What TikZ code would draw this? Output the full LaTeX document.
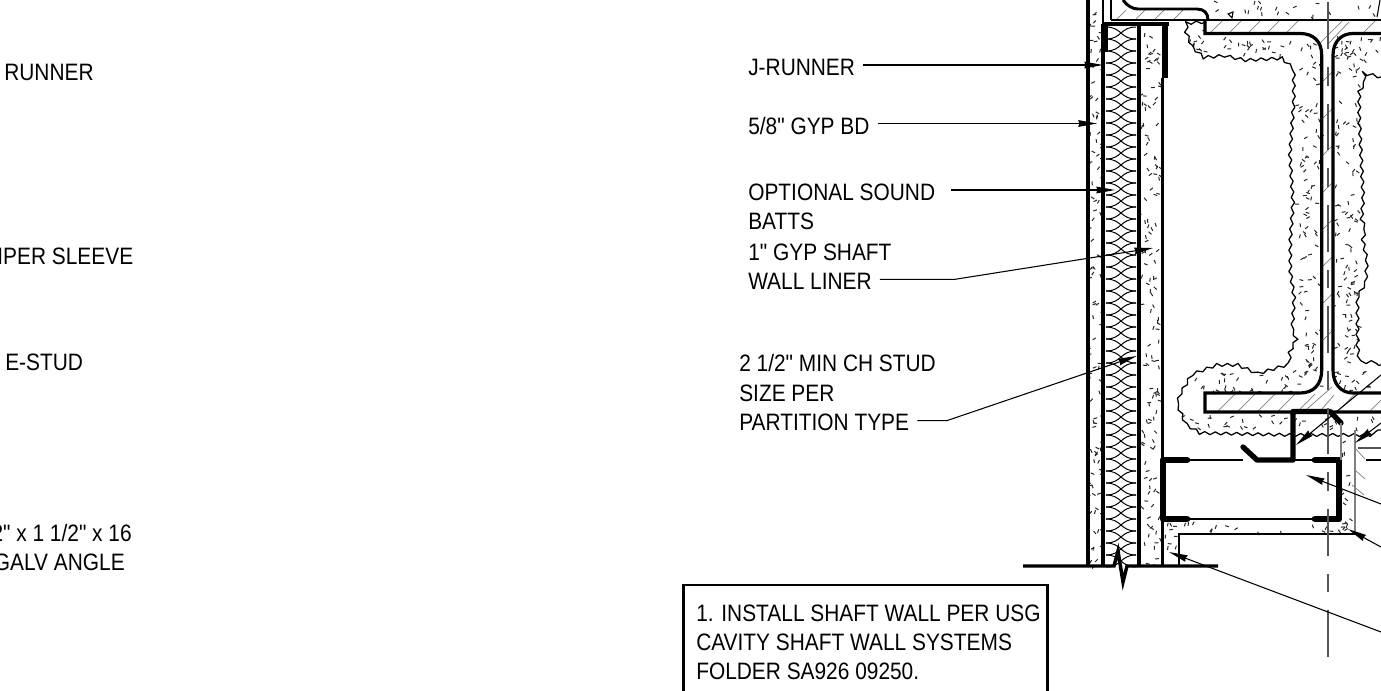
\documentclass[tikz,border=0pt]{standalone}
\usepackage{fontspec}
\newfontfamily\notefont[FakeStretch=0.88]{Liberation Sans}
\usepackage{tikz}
\usetikzlibrary{arrows.meta,decorations.pathmorphing}

\definecolor{hatchgray}{gray}{0.5}
\definecolor{axisgray}{gray}{0.33}

\tikzset{
  notetext/.style={font=\notefont\fontsize{17.8pt}{21.75pt}\selectfont, inner xsep=6pt, inner ysep=2pt, anchor=base west},
  notetextr/.style={notetext, anchor=base east},
  leader/.style={line width=0.8pt, -{Stealth[length=14pt,width=5pt,inset=0.8pt]}},
  wallline/.style={line width=2.4pt},
  heavymetal/.style={line width=5pt, line cap=round, line join=round},
  thinline/.style={line width=0.8pt},
  hatchline/.style={line width=0.55pt, hatchgray},
  battline/.style={line width=0.75pt},
  foamedge/.style={line width=0.95pt, line join=round, decorate, decoration={snake,segment length=8pt,amplitude=1.1pt}},
  foamtick/.style={line width=0.75pt, black!85}
}

\newcommand{\foamticks}[5]{
  \foreach \n in {1,...,#5}{
    \pgfmathsetmacro{\tx}{#1+rnd*(#3-#1)}
    \pgfmathsetmacro{\ty}{#2+rnd*(#4-#2)}
    \pgfmathsetmacro{\ta}{rnd*180}
    \draw[foamtick] (\tx,\ty) -- ++(\ta:3.8);
  }
}

\begin{document}
\begin{tikzpicture}[x=0.75pt,y=-0.75pt]
\useasboundingbox (0,0) rectangle (1381,690);
\pgfmathsetseed{17}

% cropped notes at the left
\node[notetext] (runnerleft) at (-4,80) {RUNNER};
\node[notetextr] (sleeveleft) at (141.5,264) {IPER SLEEVE};
\node[notetext] (studleft) at (-3,370) {E-STUD};
\node[notetextr] (angleleft) at (140,541) {2" x 1 1/2" x 16};
\node[notetextr] (galvleft) at (133,570) {GALV ANGLE};

% wall notes
\node[notetext] (jrunner) at (740,75.7) {J-RUNNER};
\node[notetext] (gypbd) at (740,134) {5/8" GYP BD};
\node[notetext] (sound) at (740,200) {OPTIONAL SOUND};
\node[notetext] (batts) at (740,229) {BATTS};
\node[notetext] (liner) at (740,260) {1" GYP SHAFT};
\node[notetext] (wallliner) at (740,289) {WALL LINER};
\node[notetext] (chstud) at (731,371.7) {2 1/2" MIN CH STUD};
\node[notetext] (sizeper) at (731,401) {SIZE PER};
\node[notetext] (partition) at (731,430) {PARTITION TYPE};

% general note box
\draw[line width=1.9pt] (683.5,695) -- (683.5,585) -- (1047.7,585) -- (1047.7,695);
\node[notetext] (noteone) at (688,621.7) {1. INSTALL SHAFT WALL PER USG};
\node[notetext] (notetwo) at (688,650.7) {CAVITY SHAFT WALL SYSTEMS};
\node[notetext] (notethree) at (688,679.7) {FOLDER SA926 09250.};

% foam and concrete specks
\foamticks{1090}{0}{1101}{566}{105}
\foamticks{1141}{26}{1160}{566}{135}
\foamticks{1299}{60}{1320}{370}{85}
\foamticks{1335}{40}{1358}{362}{100}
\foamticks{1190}{36}{1320}{55}{32}
\foamticks{1195}{370}{1320}{392}{36}
\foamticks{1185}{414}{1381}{428}{36}
\foamticks{1336}{370}{1381}{391}{14}
\foamticks{1336}{36}{1381}{70}{22}
\foamticks{1165}{521}{1177}{564}{7}
\foamticks{1165}{521}{1353}{532}{20}
\foamticks{1342}{432}{1353}{532}{14}
\foamticks{1212}{0}{1381}{17}{20}
\foamticks{1189}{25}{1203}{47}{5}

% foam outlines
\draw[foamedge] (1205,22) -- (1188,23) -- (1187,33) -- (1193,48) -- (1203,57) -- (1227,55) -- (1250,60) -- (1287,58) -- (1297,67) -- (1297,100) -- (1293,155) -- (1296,200) -- (1293,240) -- (1293,270) -- (1297,297) -- (1295,330) -- (1298,337) -- (1290,353) -- (1290,363) -- (1277,367) -- (1260,372) -- (1242,364) -- (1217,364) -- (1193,373) -- (1183,390) -- (1179,402) -- (1187,420) -- (1200,428) -- (1290,430) -- (1381,430);
\draw[foamedge] (1381,77) -- (1367,74) -- (1368,85) -- (1360,98) -- (1360,120) -- (1362,160) -- (1364,200) -- (1362,225) -- (1365,233) -- (1362,245) -- (1366,265) -- (1365,288) -- (1358,300) -- (1358,347) -- (1360,365) -- (1381,365);

% flange hatching
\foreach \hx in {1210,1229,...,1300}{
  \draw[hatchline] (\hx,33) -- ++(13,-13);
}
\draw[hatchline] (1318,45) -- (1343,20);
\draw[hatchline] (1327,45) -- (1349,22);
\draw[hatchline] (1363,33) -- (1376,20);
\foreach \hx in {1217,1237,...,1297}{
  \draw[hatchline] (\hx,412) -- ++(18,-18);
}
\draw[hatchline] (1307,409) -- (1332,387);
\draw[hatchline] (1322,409) -- (1334,395);
\draw[hatchline] (1340,409) -- (1355,394);
\draw[hatchline] (1369,412) -- (1381,400);
\foreach \hy in {77,114,...,340}{
  \draw[hatchline] (1322,\hy+5) -- (1333,\hy-6);
}
\foreach \hx in {1117,1136,...,1190}{
  \draw[hatchline] (\hx,19) -- ++(9,-9);
}
\draw[hatchline] (1355,470) -- (1365,479);
\draw[hatchline] (1352,485) -- (1364,495);
\draw[hatchline] (1355,448) -- (1365,459);

% sound batt
\foreach \bi [evaluate=\bi as \by using 27+12*\bi] in {0,...,44}{
  \draw[battline] (1106,\by) .. controls (1122,\by) and (1120,\by+12) .. (1136,\by+12);
  \draw[battline] (1136,\by) .. controls (1120,\by) and (1122,\by+12) .. (1106,\by+12);
}

% wall layers
\draw[wallline] (1088,0) -- (1088,566);
\draw[wallline] (1103,24) -- (1103,566);
\draw[thinline] (1103,0) -- (1103,24);
\draw[line width=3pt] (1139,24) -- (1139,566);
\draw[wallline] (1162.5,78) -- (1162.5,566);
\draw[wallline] (1102,24) -- (1169,24);
\draw[line width=4.2pt] (1165,24) -- (1165,78);
\draw[line width=4.2pt] (1105,24) -- (1105,52);

% shaft wall section
\draw[line width=1.5pt] (1111,0) -- (1111,20);
\draw[line width=1.9pt] (1111,20) -- (1381,20);
\draw[line width=2.2pt] (1123,0) .. controls (1127,6) and (1133,9) .. (1138,9) -- (1197,9) .. controls (1204,9) and (1208,13) .. (1208,20);
\draw[line width=2.4pt] (1205,20) -- (1205,33.5) -- (1300,33.5) .. controls (1314,33.5) and (1321.7,42) .. (1321.7,55) -- (1321.7,370) .. controls (1321.7,384) and (1314,393) .. (1300,393) -- (1205,393) -- (1205,412) -- (1381,412);
\draw[line width=2.4pt] (1381,33.5) -- (1353,33.5) .. controls (1341,33.5) and (1333,42) .. (1333,55) -- (1333,370) .. controls (1333,384) and (1341,393) .. (1353,393) -- (1381,393);
\draw[thinline] (1377,17) -- (1380,0);
\draw[thinline] (1228,14) -- (1233,12) -- (1232,18) -- cycle;

% studs and angle
\draw[thinline] (1187,460) -- (1243,460);
\draw[thinline] (1293,460) -- (1315,460);
\draw[thinline] (1187,519) -- (1315,519);
\draw[heavymetal] (1187,460) -- (1163,460) -- (1163,519) -- (1187,519);
\draw[heavymetal] (1315,460) -- (1339,460) -- (1339,519) -- (1315,519);
\draw[line width=4pt, line cap=round, line join=round] (1243,447) -- (1257,460) -- (1293,460) -- (1293,411.5) -- (1330,411.5) -- (1341,423);
\draw[line width=0.8pt, hatchgray] (1341,423) -- (1341,460);
\draw[line width=0.8pt, hatchgray] (1355,430) -- (1355,534);
\draw[thinline] (1355,534) -- (1179,534) -- (1179,566);
\draw[line width=1pt, axisgray] (1358,448) -- (1381,448);
\draw[thinline] (1366,460) -- (1381,460);

% floor line and break
\draw[line width=2.6pt, line join=miter] (1023,566) -- (1114,566) -- (1118,551) -- (1123,582) -- (1127,566) -- (1218,566);

% center line
\coordinate (axisbottom) at (1328,657);
\coordinate (axistop) at (1328,0);
\draw[line width=1.2pt, axisgray, dash pattern=on 35pt off 13.5pt on 14pt off 13.5pt] (axisbottom) -- (axistop);

% leaders
\coordinate (jrunnertip) at (1103,65);
\coordinate (gypbdtip) at (1097,123.5);
\coordinate (soundtip) at (1115,190);
\coordinate (linertip) at (1153,248);
\coordinate (linerbend) at (955,279.3);
\coordinate (chstudtip) at (1136.7,356);
\coordinate (chstudbend) at (946.7,420.7);
\coordinate (jambtip) at (1296,445);
\coordinate (jambend) at (1381,375);
\coordinate (liptip) at (1355,443);
\coordinate (lipend) at (1381,423);
\coordinate (cstudtip) at (1306,475);
\coordinate (cstudend) at (1381,504);
\coordinate (angletip) at (1348,529);
\coordinate (angleend) at (1381,547);
\coordinate (galvtip) at (1169,552);
\coordinate (galvend) at (1381,632);
\draw[leader] (jrunner.east |- jrunnertip) -- (jrunnertip);
\draw[leader] (gypbd.east |- gypbdtip) -- (gypbdtip);
\draw[leader, shorten <=6pt] (sound.east |- soundtip) -- (soundtip);
\draw[leader] (wallliner.east |- linerbend) -- (linerbend) -- (linertip);
\draw[leader] (partition.east |- chstudbend) -- (chstudbend) -- (chstudtip);
\draw[leader] (jambend) -- (jambtip);
\draw[leader] (lipend) -- (liptip);
\draw[leader] (cstudend) -- (cstudtip);
\draw[leader] (angleend) -- (angletip);
\draw[leader] (galvend) -- (galvtip);
\end{tikzpicture}
\end{document}
